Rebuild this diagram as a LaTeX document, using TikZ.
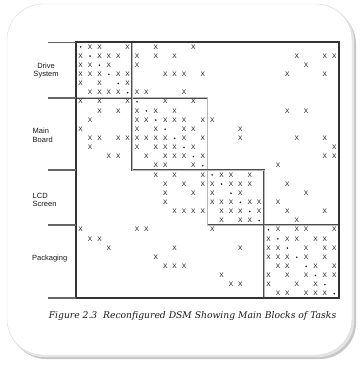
\documentclass[tikz,border=0pt]{standalone}
\usepackage{fontspec}
\setmainfont{Liberation Sans}
\newfontfamily\capfont{DejaVu Serif}
\begin{document}
\begin{tikzpicture}[x=1pt,y=-1pt,
  xmark/.style={font=\fontsize{6.6}{6.6}\selectfont, inner sep=0pt, text=black!90},
  diagdot/.style={circle, fill=black!90, inner sep=0pt, minimum size=1.8pt},
  frame/.style={draw=black!80, line width=1.2pt},
  blockbox/.style={draw=black!70, line width=0.55pt, double=black!28, double distance=0.8pt},
  tickline/.style={draw=black!60, line width=1.8pt},
  lab/.style={font=\fontsize{7.5}{8.5}\selectfont, inner sep=0pt, text=black!90},
  caption/.style={font=\capfont\itshape\fontsize{9.2}{10}\selectfont, inner sep=0pt, text=black!90}]
\useasboundingbox (0,0) rectangle (359,366);
% card
\fill[black!22, rounded corners=36pt] (10,8) rectangle (356,359);
\fill[black!10, rounded corners=36pt] (8,5) rectangle (354,357);
\filldraw[fill=white, draw=black!15, rounded corners=36pt] (7,4) rectangle (352,355);
% geometry
\def\xo{76}\def\yo{42}\def\cw{9.393}\def\ch{9.143}
% marks
\foreach \r/\xs in {
 1/{2,3,6,9,13},
 2/{1,3,4,5,7,9,11,24,27,28},
 3/{1,2,4,7,25},
 4/{1,2,3,5,6,10,11,12,14,23,27},
 5/{1,3,6},
 6/{2,3,4,5,7,8,12},
 7/{1,3,6,10,13},
 8/{3,5,7,9,11,23,25},
 9/{2,7,8,10,11,12,14,15},
 10/{1,7,9,12,13,18},
 11/{2,3,5,6,7,8,9,10,12,14,18,24,27},
 12/{2,7,9,10,11,13,28},
 13/{4,5,8,10,11,12,14,27,28},
 14/{9,10,13,22},
 15/{9,11,14,16,17,19},
 16/{10,12,14,15,17,18,19,23},
 17/{10,13,15,18,25},
 18/{10,15,16,17,19,20,22},
 19/{11,12,13,14,16,17,18,20,23,27},
 20/{16,18,19,24},
 21/{1,7,8,15,22,24,25,28},
 22/{2,3,21,23,24,26,27},
 23/{4,11,18,21,22,25,27,28},
 24/{9,21,22,23,25,27},
 25/{10,11,12,22,23,26,28},
 26/{16,21,23,25,27,28},
 27/{17,18,21,24,26},
 28/{22,23,25,26,27}}{
  \foreach \c in \xs {
    \node[xmark] (m-\r-\c) at ({\xo+(\c-0.5)*\cw},{\yo+(\r-0.5)*\ch+0.2}) {X};
  }
  \node[diagdot] (d-\r) at ({\xo+(\r-0.5)*\cw},{\yo+(\r-0.5)*\ch+0.3}) {};
}
% blocks
\draw[blockbox] (76,42) rectangle (132.4,97.9);
\draw[blockbox] (132.4,97.9) rectangle (207.5,170);
\draw[blockbox] (207.5,170) rectangle (263.9,224.9);
\draw[blockbox] (263.9,224.9) rectangle (339,298);
% frame
\draw[frame] (76,42) rectangle (339,298);
% ticks
\foreach \y/\n in {42.5/t0,97.9/t1,170/t2,224.9/t3,297.6/t4}{
  \coordinate (\n a) at (47.7,\y);
  \coordinate (\n b) at (76,\y);
  \draw[tickline] (\n a) -- (\n b);
}
% labels
\node[lab, align=center] (ds) at (46,70.5) {Drive\\System};
\node[lab, align=left, anchor=west] (mb) at (32.5,135.2) {Main\\Board};
\node[lab, align=left, anchor=west] (lcd) at (32.5,199.7) {LCD\\Screen};
\node[lab, anchor=west] (pk) at (32,258.3) {Packaging};
% caption
\node[caption] (cap) at (192.5,316) {Figure 2.3\ \ Reconfigured DSM Showing Main Blocks of Tasks};
\end{tikzpicture}
\end{document}
